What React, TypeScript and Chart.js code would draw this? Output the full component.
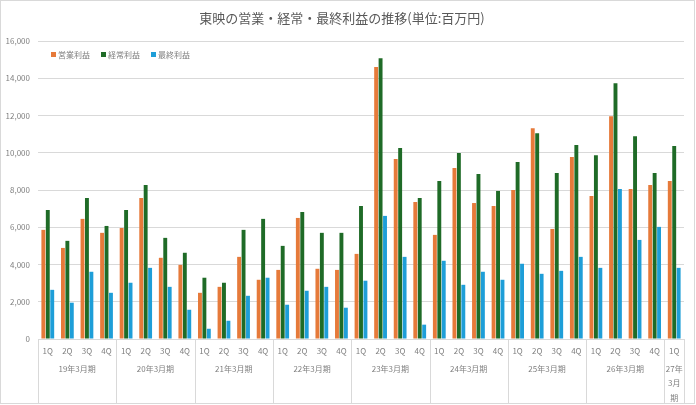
import React, { useEffect, useRef } from "react";
import { Chart, registerables } from "chart.js";

Chart.register(...registerables);

const titleText = "東映の営業・経常・最終利益の推移(単位:百万円)";
const seriesNames = ["営業利益", "経常利益", "最終利益"];
const seriesColors = ["#E67A3A", "#1F6B27", "#1E9ED8"];

const groupLabels = [
  "19年3月期", "20年3月期", "21年3月期", "22年3月期",
  "23年3月期", "24年3月期", "25年3月期", "26年3月期", "27年3月期",
];
const groupSizes = [4, 4, 4, 4, 4, 4, 4, 4, 1];

const quarterLabels = [
  "1Q", "2Q", "3Q", "4Q", "1Q", "2Q", "3Q", "4Q", "1Q", "2Q", "3Q", "4Q",
  "1Q", "2Q", "3Q", "4Q", "1Q", "2Q", "3Q", "4Q", "1Q", "2Q", "3Q", "4Q",
  "1Q", "2Q", "3Q", "4Q", "1Q", "2Q", "3Q", "4Q", "1Q",
];

const operatingProfit = [
  5860, 4890, 6450, 5700,
  5960, 7570, 4360, 3980,
  2480, 2800, 4410, 3180,
  3710, 6500, 3770, 3710,
  4570, 14600, 9660, 7360,
  5590, 9180, 7300, 7140,
  8000, 11320, 5910, 9770,
  7680, 11960, 8050, 8270,
  8480,
];
const ordinaryProfit = [
  6930, 5270, 7570, 6070,
  6930, 8270, 5430, 4630,
  3290, 3020, 5860, 6450,
  5000, 6820, 5700, 5700,
  7140, 15070, 10250, 7570,
  8480, 9980, 8860, 7950,
  9500, 11050, 8910, 10410,
  9870, 13730, 10890, 8910,
  10360,
];
const netProfit = [
  2640, 1950, 3610, 2480,
  3020, 3820, 2800, 1570,
  550, 980, 2320, 3290,
  1840, 2590, 2800, 1680,
  3130, 6610, 4410, 770,
  4200, 2910, 3610, 3180,
  4040, 3500, 3660, 4410,
  3820, 8050, 5320, 6020,
  3820,
];

const yMin = 0;
const yMax = 16000;
const yStep = 2000;

const FONT = "'Noto Sans CJK JP', 'Noto Sans', sans-serif";
const TEXT = "#595959";
const LIGHT_TEXT = "#7F7F7F";
const GRID = "#D9D9D9";

const backgroundPlugin = {
  id: "bgBorder",
  beforeDraw(chart: any) {
    const { ctx, width, height } = chart;
    ctx.save();
    ctx.fillStyle = "#FFFFFF";
    ctx.fillRect(0, 0, width, height);
    ctx.strokeStyle = GRID;
    ctx.lineWidth = 1;
    ctx.strokeRect(0.5, 0.5, width - 2, height - 2);
    ctx.restore();
  },
};

const legendPlugin = {
  id: "innerLegend",
  afterDraw(chart: any) {
    const { ctx, chartArea } = chart;
    ctx.save();
    ctx.font = `8px ${FONT}`;
    ctx.textBaseline = "middle";
    ctx.textAlign = "left";
    let x = chartArea.left + 13;
    const y = chartArea.top + 13.5;
    chart.data.datasets.forEach((ds: any) => {
      ctx.fillStyle = ds.backgroundColor;
      ctx.fillRect(x, y - 2.5, 5, 5);
      ctx.fillStyle = LIGHT_TEXT;
      ctx.fillText(ds.label, x + 7, y);
      x += 7 + ctx.measureText(ds.label).width + 11;
    });
    ctx.restore();
  },
};

const groupAxisPlugin = {
  id: "groupAxis",
  afterDraw(chart: any) {
    const xs = chart.scales.x;
    const { ctx } = chart;
    const half = (xs.getPixelForValue(1) - xs.getPixelForValue(0)) / 2;
    const top = chart.chartArea.bottom;
    const bottom = xs.bottom;
    ctx.save();
    ctx.strokeStyle = GRID;
    ctx.lineWidth = 1;
    ctx.font = `8px ${FONT}`;
    ctx.fillStyle = LIGHT_TEXT;
    ctx.textAlign = "center";
    ctx.textBaseline = "middle";
    let idx = 0;
    groupLabels.forEach((label, g) => {
      const left = xs.getPixelForValue(idx) - half;
      const right = xs.getPixelForValue(idx + groupSizes[g] - 1) + half;
      [left, right].forEach((px) => {
        const p = Math.round(px) + 0.5;
        ctx.beginPath();
        ctx.moveTo(p, top);
        ctx.lineTo(p, bottom);
        ctx.stroke();
      });
      const maxW = right - left - 1;
      const lines: string[] = [];
      let cur = "";
      for (const ch of Array.from(label)) {
        if (cur && ctx.measureText(cur + ch).width > maxW) {
          lines.push(cur);
          cur = ch;
        } else {
          cur += ch;
        }
      }
      if (cur) lines.push(cur);
      lines.forEach((ln, i) => {
        ctx.fillText(ln, (left + right) / 2, top + 29.5 + i * 14.5);
      });
      idx += groupSizes[g];
    });
    ctx.restore();
  },
};

export default function App() {
  const canvasRef = useRef<HTMLCanvasElement | null>(null);

  useEffect(() => {
    if (!canvasRef.current) return;
    const chart = new Chart(canvasRef.current, {
      type: "bar",
      data: {
        labels: quarterLabels,
        datasets: [
          { label: seriesNames[0], data: operatingProfit, backgroundColor: seriesColors[0] },
          { label: seriesNames[1], data: ordinaryProfit, backgroundColor: seriesColors[1] },
          { label: seriesNames[2], data: netProfit, backgroundColor: seriesColors[2] },
        ],
      },
      options: {
        animation: false,
        responsive: true,
        maintainAspectRatio: false,
        datasets: {
          bar: { categoryPercentage: 0.68, barPercentage: 0.88 },
        },
        layout: { padding: { left: 0, right: 12, top: 0, bottom: 2 } },
        plugins: {
          legend: { display: false },
          tooltip: { enabled: false },
          title: {
            display: true,
            text: titleText,
            color: TEXT,
            font: { family: FONT, size: 13, weight: "normal" },
            padding: { top: 10, bottom: 15.4 },
          },
        },
        scales: {
          x: {
            grid: { display: false, drawTicks: false },
            border: { display: true, color: GRID },
            ticks: {
              color: LIGHT_TEXT,
              font: { family: FONT, size: 8 },
              autoSkip: false,
              maxRotation: 0,
              padding: 7,
            },
            afterFit: (scale: any) => {
              scale.height = 64;
            },
          },
          y: {
            min: yMin,
            max: yMax,
            grid: { color: GRID, drawTicks: false },
            border: { display: false },
            ticks: {
              stepSize: yStep,
              color: LIGHT_TEXT,
              font: { family: FONT, size: 8 },
              padding: 8,
              callback: (v: any) => Number(v).toLocaleString("en-US"),
            },
            afterFit: (scale: any) => {
              scale.width = 38;
            },
          },
        },
      },
      plugins: [backgroundPlugin, legendPlugin, groupAxisPlugin],
    });
    return () => chart.destroy();
  }, []);

  return (
    <div style={{ position: "fixed", left: 0, top: 0, width: 696, height: 405, background: "#fff" }}>
      <canvas ref={canvasRef} />
    </div>
  );
}
